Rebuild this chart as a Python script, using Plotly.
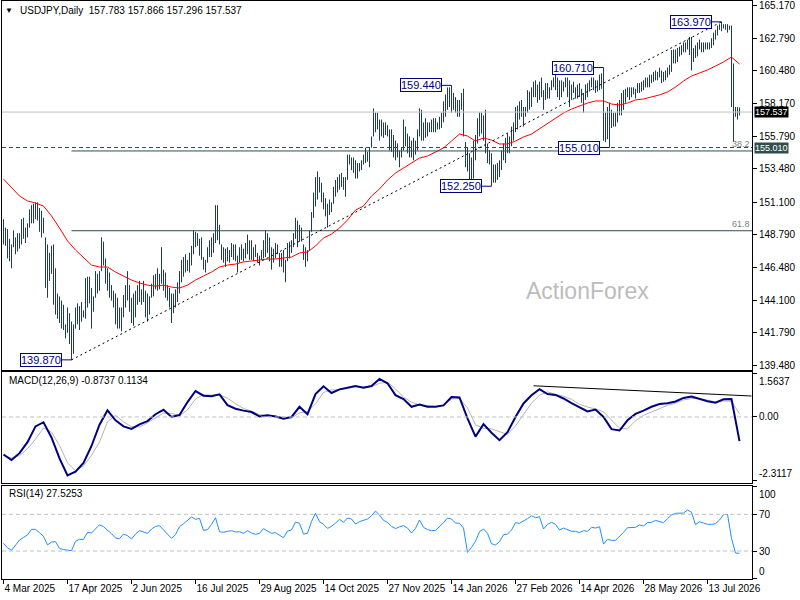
import plotly.graph_objects as go

# USDJPY daily bars, 4 Mar 2025 onwards
bar_high = [
    149.9, 149.3, 149.2, 148.5, 148.1, 149.1, 148.6, 148.9, 148.9, 149.9,
    150.0, 149.3, 149.6, 150.6, 150.9, 151.0, 151.1, 151.1, 150.7, 150.5,
    150.0, 148.6, 148.1, 147.5, 148.0, 148.1, 146.4, 144.6, 144.4, 144.1,
    143.8, 142.4, 143.6, 143.2, 142.6, 142.4, 143.6, 143.9, 143.7, 144.0,
    143.4, 145.7, 145.8, 145.8, 145.0, 144.4, 146.2, 146.0, 146.2, 148.6,
    148.3, 147.1, 146.4, 146.1, 145.2, 144.8, 144.6, 144.3, 143.6, 143.6,
    144.5, 145.2, 146.2, 145.2, 144.3, 144.6, 144.8, 145.2, 145.5, 144.9,
    145.5, 144.8, 144.6, 144.4, 145.3, 145.9, 146.0, 146.4, 146.0, 147.9,
    146.3, 146.1, 145.2, 145.0, 144.6, 144.6, 144.9, 145.4, 146.2, 147.0,
    147.2, 147.4, 147.0, 147.5, 148.0, 149.1, 149.0, 148.9, 148.5,
    148.6, 147.2, 147.0, 147.9, 148.4, 148.6, 148.9, 150.9, 150.9, 149.5,
    148.1, 147.9, 147.8, 147.9, 147.7, 148.2, 148.1, 148.1, 147.3, 147.9,
    148.1, 147.8, 148.2, 148.8, 148.4, 148.4, 147.9, 148.1, 147.5, 147.3,
    147.7, 148.4, 149.1, 148.9, 148.6, 147.9, 147.8, 148.2, 148.1, 147.5,
    147.5, 147.7, 147.0, 148.2, 148.3, 148.4, 148.9, 150.0, 149.8, 149.5,
    149.3, 148.1, 147.9, 147.7, 149.1, 150.4, 151.8, 152.9, 153.3, 152.9,
    152.5, 151.8, 151.4, 151.0, 151.3, 151.1, 152.2, 152.7, 152.9, 153.1,
    153.2, 152.9, 152.9, 154.5, 154.5, 154.3, 154.3, 154.1, 153.9, 153.9,
    154.1, 154.5, 155.0, 154.7, 155.0, 155.8, 157.8, 157.5, 157.5, 157.0,
    157.0, 156.8, 156.8, 156.6, 156.3,
    156.3, 155.9, 155.5, 155.3, 154.8, 155.0, 157.0, 156.5, 156.0, 155.8,
    155.5, 155.7, 155.5, 156.3, 157.8, 157.7, 156.8, 157.1, 156.8, 156.8,
    157.0, 157.1, 157.1, 156.8, 157.2, 157.5, 158.3, 158.8, 159.3, 159.3,
    159.44, 158.9, 158.6, 158.4, 158.4, 158.9, 159.2, 155.4, 155.0, 154.6,
    154.3, 155.5, 155.9, 157.1, 157.5, 157.5, 157.3, 157.7, 155.3, 154.8,
    154.6, 153.8, 153.8, 153.9, 154.1, 154.8, 155.3, 155.7, 156.0, 155.8,
    156.5, 156.8, 157.9, 158.0, 158.3, 158.4, 157.9, 157.9, 159.1, 159.0,
    159.3, 159.7, 159.8, 159.5, 159.7, 160.0, 159.1, 159.6, 159.6, 159.3,
    159.8, 160.0, 160.5, 160.0, 159.8, 159.8, 159.7, 160.0, 160.0, 159.8,
    159.5, 159.7, 159.3, 159.5, 159.6, 159.2, 158.9, 159.5, 159.6, 159.8,
    160.0, 160.0, 159.8, 159.8, 160.2, 160.3, 160.71, 157.5, 157.9, 158.2,
    157.7, 157.5, 157.5, 158.2, 158.4, 158.9, 159.1, 159.2, 159.3, 159.3,
    159.3, 159.3, 159.2, 159.6, 159.6, 159.7, 159.8, 160.0, 160.0, 160.2,
    160.2, 160.4, 160.5, 160.4, 160.7, 160.5, 160.4, 160.5, 160.7, 160.9,
    161.96, 162.0, 162.0, 162.1, 162.2, 162.3, 162.5, 162.5, 162.7, 162.9,
    162.9, 162.1, 162.3, 162.5, 162.7, 162.5, 162.5, 162.5, 162.5, 162.5,
    162.8, 163.2, 163.4, 163.7, 163.8, 163.97, 163.8, 163.8, 163.8, 163.7,
    163.7, 161.0, 157.9, 157.9, 157.866,
]
bar_low = [
    148.1, 148.0, 147.1, 146.9, 146.4, 147.9, 147.4, 147.6, 147.8, 148.1,
    148.5, 148.2, 148.6, 149.3, 149.6, 149.6, 149.9, 149.8, 149.0, 148.6,
    148.9, 145.0, 144.3, 145.5, 146.0, 143.8, 143.1, 142.8, 142.5, 142.1,
    142.0, 141.4, 141.8, 141.0, 139.87, 140.3, 142.1, 142.4, 142.0, 142.6,
    142.9, 142.8, 143.6, 143.9, 142.1, 143.3, 144.3, 144.6, 144.8, 146.2,
    146.6, 145.3, 144.8, 144.3, 144.1, 143.6, 142.4, 142.1, 142.1, 141.9,
    142.9, 143.6, 144.1, 143.3, 142.5, 142.3, 142.9, 143.8, 144.0, 143.8,
    144.0, 142.9, 142.6, 143.1, 144.3, 144.4, 144.9, 144.8, 144.9, 145.3,
    144.8, 144.3, 144.1, 143.6, 142.5, 143.2, 143.6, 144.0, 144.6, 145.4,
    145.8, 146.1, 146.2, 146.1, 146.6, 147.4, 147.9, 148.0, 147.3,
    147.0, 146.3, 146.1, 146.8, 147.2, 147.2, 147.5, 148.2, 148.4, 148.1,
    147.0, 146.8, 146.5, 146.9, 146.8, 147.2, 147.0, 146.9, 146.1, 146.8,
    147.0, 146.9, 147.1, 147.4, 147.0, 147.0, 146.9, 147.2, 146.8, 146.6,
    147.0, 147.1, 147.2, 147.5, 146.9, 146.3, 146.8, 147.1, 147.4, 146.5,
    146.5, 146.1, 145.4, 146.9, 147.1, 147.5, 147.9, 148.5, 147.9, 148.3,
    148.3, 147.0, 146.5, 146.9, 147.7, 149.0, 150.0, 150.8, 151.3, 151.8,
    151.1, 150.6, 150.1, 149.3, 150.2, 150.4, 151.0, 151.5, 151.8, 152.0,
    152.2, 152.0, 151.5, 152.7, 153.8, 153.4, 153.2, 152.8, 152.8, 153.3,
    153.4, 153.8, 153.9, 154.0, 153.6, 155.0, 155.8, 156.1, 156.3, 155.5,
    155.8, 155.7, 155.9, 155.8, 154.8,
    154.7, 154.3, 154.1, 154.3, 153.6, 154.3, 154.8, 155.1, 154.6, 154.3,
    154.3, 154.1, 154.5, 154.8, 155.8, 155.5, 155.5, 155.7, 155.8, 156.1,
    156.1, 156.1, 156.1, 156.3, 156.3, 156.4, 156.8, 157.2, 157.7, 157.9,
    157.5, 157.7, 157.5, 157.2, 157.2, 157.7, 155.8, 153.6, 153.3, 152.4,
    152.7, 152.8, 154.1, 155.3, 155.8, 156.0, 155.5, 154.6, 153.9, 153.8,
    152.25, 152.5, 152.5, 152.7, 152.9, 153.4, 154.1, 153.9, 154.6, 154.6,
    155.1, 155.5, 156.1, 156.3, 157.0, 157.2, 156.5, 157.2, 157.5, 157.7,
    157.9, 158.6, 158.6, 158.2, 158.4, 158.6, 157.7, 158.4, 158.5, 158.5,
    159.1, 159.3, 159.1, 158.6, 158.4, 158.6, 159.0, 159.3, 158.6, 157.9,
    158.4, 158.9, 158.5, 158.5, 158.6, 158.2, 157.5, 158.4, 158.6, 159.0,
    159.3, 159.1, 158.9, 159.0, 159.1, 159.2, 155.5, 155.4, 155.6, 155.01,
    156.4, 156.5, 156.5, 156.8, 157.3, 157.3, 157.7, 158.2, 158.6, 158.4,
    158.6, 158.8, 158.5, 158.9, 158.9, 159.0, 159.1, 159.3, 159.3, 159.3,
    159.6, 159.7, 159.8, 159.8, 160.0, 159.6, 159.7, 159.8, 160.0, 160.2,
    160.4, 161.0, 161.0, 161.1, 161.5, 161.6, 161.8, 161.8, 162.0, 161.6,
    160.5, 161.1, 161.4, 161.5, 162.0, 161.8, 161.8, 162.0, 162.0, 162.0,
    162.1, 162.3, 162.7, 163.0, 163.4, 163.3, 163.5, 163.4, 163.2, 163.4,
    157.9, 155.4, 157.2, 157.0, 157.296,
]
last_ohlc = [157.783, 157.866, 157.296, 157.537]

# red moving average, read every 4th bar
sma = [
    152.76, 152.12, 151.55, 151.20, 151.05, 150.84, 150.13, 149.27, 148.35, 147.70,
    147.13, 146.63, 146.49, 146.49, 146.13, 145.85, 145.56, 145.35, 145.20, 145.13,
    145.20, 145.06, 144.99, 145.20, 145.56, 145.85, 146.13, 146.49, 146.63, 146.70,
    146.85, 146.92, 147.00, 147.06, 147.06, 147.13, 147.20, 147.49, 147.56, 147.99,
    148.56, 148.84, 149.27, 149.84, 150.55, 150.84, 151.55, 152.05, 152.69, 153.19,
    153.55, 153.91, 154.26, 154.40, 154.69, 154.98, 155.47, 155.97, 155.83, 155.47,
    155.69, 155.54, 155.26, 155.26, 155.47, 155.76, 155.97, 156.33, 156.69, 157.11,
    157.47, 157.75, 157.97, 158.18, 158.33, 158.33, 158.11, 158.04, 158.18, 158.40,
    158.47, 158.61, 158.76, 158.97, 159.32, 159.75, 160.11, 160.32, 160.54, 160.82,
    161.11, 161.46, 160.96,
]

# MACD(12,26,9) main and signal, read every 4th bar
macd_main = [
    -1.36, -1.56, -1.31, -0.91, -0.34, -0.19, -0.74, -1.50, -2.12, -1.98,
    -1.66, -1.05, -0.28, 0.24, -0.12, -0.34, -0.43, -0.27, -0.15, 0.10,
    0.26, 0.00, 0.07, 0.54, 0.94, 0.77, 0.75, 0.82, 0.43, 0.30,
    0.23, 0.18, 0.02, 0.06, 0.02, -0.06, 0.00, 0.37, 0.10, 0.83,
    1.11, 0.87, 1.00, 1.06, 1.12, 1.06, 1.12, 1.38, 1.22, 0.79,
    0.65, 0.37, 0.45, 0.37, 0.37, 0.42, 0.72, 0.71, -0.05, -0.71,
    -0.26, -0.57, -0.84, -0.55, 0.00, 0.49, 0.79, 1.01, 0.83, 0.80,
    0.67, 0.50, 0.34, 0.20, 0.27, 0.00, -0.44, -0.49, -0.12, 0.11,
    0.23, 0.37, 0.47, 0.50, 0.56, 0.69, 0.74, 0.65, 0.57, 0.52,
    0.64, 0.65, -0.8737,
]
macd_signal = [
    -1.40, -1.48, -1.40, -1.15, -0.80, -0.40, -0.55, -1.03, -1.66, -1.95,
    -1.77, -1.39, -0.91, -0.17, 0.06, -0.18, -0.35, -0.36, -0.21, -0.05,
    0.14, 0.13, 0.04, 0.26, 0.65, 0.81, 0.79, 0.80, 0.68, 0.48,
    0.31, 0.21, 0.09, 0.06, 0.03, -0.02, -0.03, 0.15, 0.19, 0.48,
    0.89, 0.98, 0.98, 1.03, 1.10, 1.08, 1.10, 1.22, 1.26, 1.02,
    0.72, 0.54, 0.43, 0.41, 0.38, 0.43, 0.65, 0.67, 0.33, -0.28,
    -0.41, -0.43, -0.54, -0.63, -0.32, 0.11, 0.50, 0.79, 0.91, 0.82,
    0.75, 0.64, 0.46, 0.36, 0.29, 0.19, -0.11, -0.41, -0.43, -0.14,
    0.06, 0.18, 0.31, 0.42, 0.50, 0.62, 0.67, 0.66, 0.61, 0.55,
    0.58, 0.57, 0.1134,
]
macd_scale = [-2.3117, 1.5637]

# RSI(14), read every 2nd bar
rsi = [
    38.4, 33.6, 30.7, 36.2, 42.0, 44.9, 47.5, 53.6, 53.6, 50.0,
    46.0, 36.6, 39.8, 40.2, 32.9, 31.5, 31.1, 30.4, 40.6, 42.7,
    42.7, 50.4, 49.6, 54.0, 58.7, 56.5, 52.9, 48.9, 44.2, 43.5,
    48.5, 46.7, 43.1, 48.5, 52.2, 50.4, 49.3, 54.0, 56.9, 57.6,
    52.9, 49.3, 43.8, 47.8, 56.5, 59.8, 63.4, 67.1, 64.5, 65.6,
    52.5, 53.3, 59.1, 66.3, 51.1, 50.4, 51.5, 52.2, 50.7, 51.1,
    49.3, 52.2, 49.6, 48.2, 49.3, 54.4, 51.8, 49.3, 50.0, 47.5,
    44.5, 51.8, 52.9, 61.6, 60.2, 48.5, 49.3, 62.3, 71.1, 62.0,
    59.1, 54.7, 56.9, 60.5, 64.5, 61.3, 66.0, 64.9, 59.4, 62.0,
    63.8, 64.9, 68.5, 73.6, 69.3, 63.4, 61.3, 56.9, 54.4, 56.5,
    57.6, 55.1, 49.6, 54.7, 63.8, 55.8, 53.3, 52.2, 52.5, 56.5,
    60.9, 66.0, 64.9, 60.5, 60.2, 55.1, 28.5, 34.0, 40.6, 51.1,
    54.0, 49.3, 38.0, 36.6, 40.2, 47.8, 48.5, 52.9, 60.9, 60.2,
    62.3, 65.3, 68.5, 66.3, 67.4, 54.0, 59.1, 61.3, 59.1, 52.9,
    55.1, 53.6, 51.5, 51.5, 50.0, 52.2, 51.5, 55.8, 55.1, 56.5,
    37.6, 42.7, 41.6, 41.6, 45.6, 50.4, 55.4, 55.4, 55.8, 58.4,
    57.3, 60.9, 61.3, 63.4, 62.0, 60.9, 65.3, 69.3, 71.1, 71.1,
    71.4, 74.7, 72.2, 58.7, 62.0, 60.5, 59.1, 59.1, 59.8, 63.8,
    69.6, 70.0, 43.8, 27.8, 27.5253,
]
rsi_levels = [70, 30]

price_ticks = [165.170, 162.790, 160.480, 158.170, 155.790, 153.480,
               151.100, 148.790, 146.480, 144.100, 141.790, 139.480]
date_labels = ["4 Mar 2025", "17 Apr 2025", "2 Jun 2025", "16 Jul 2025",
               "29 Aug 2025", "14 Oct 2025", "27 Nov 2025", "14 Jan 2026",
               "27 Feb 2026", "14 Apr 2026", "28 May 2026", "13 Jul 2026"]

# marked swings (bar index, price)
swing_bars = [34, 224, 244, 300, 303, 359]
swing_prices = [139.870, 159.440, 152.250, 160.710, 155.010, 163.970]
support_line = 155.010
fib_levels = [38.2, 61.8]
macd_trend_bars = [265, 374]
macd_trend_vals = [1.13, 0.76]

BAR = "#1e3c5a"
NAVY = "#000080"
SLATE = "#2f4f4f"
FONT = "Liberation Sans, Arial, sans-serif"

n = len(bar_high)
xr = [-0.75, 374.25]

fig = go.Figure()

bx, by = [], []
for i, (h, l) in enumerate(zip(bar_high, bar_low)):
    bx += [i, i, None]
    by += [l, h, None]
fig.add_trace(go.Scatter(x=bx, y=by, mode="lines", line=dict(color=BAR, width=1),
                         xaxis="x", yaxis="y", hoverinfo="skip"))
fig.add_trace(go.Scatter(x=list(range(0, n, 4)), y=sma, mode="lines",
                         line=dict(color="#ff0000", width=1), xaxis="x", yaxis="y"))

fig.add_trace(go.Scatter(x=list(range(0, n, 4)), y=macd_signal, mode="lines",
                         line=dict(color="#b4b4b4", width=1), xaxis="x2", yaxis="y2"))
fig.add_trace(go.Scatter(x=list(range(0, n, 4)), y=macd_main, mode="lines",
                         line=dict(color=NAVY, width=2), xaxis="x2", yaxis="y2"))

fig.add_trace(go.Scatter(x=list(range(0, n, 2)), y=rsi, mode="lines",
                         line=dict(color="#1e90ff", width=1), xaxis="x3", yaxis="y3"))

# horizontal lines on the price panel
fig.add_shape(type="line", xref="x domain", yref="y", x0=0, x1=1,
              y0=last_ohlc[3], y1=last_ohlc[3], line=dict(color="#c0c0c0", width=1))
fig.add_shape(type="line", xref="x domain", yref="y", x0=0, x1=1,
              y0=support_line, y1=support_line,
              line=dict(color=SLATE, width=1, dash="4px,3px"))

# fibonacci retracement of the 139.870 -> 163.970 leg
lo, hi = swing_prices[0], swing_prices[-1]
for lvl in fib_levels:
    p = hi - (hi - lo) * lvl / 100
    fig.add_shape(type="line", xref="x", yref="y", x0=swing_bars[0], x1=xr[1],
                  y0=p, y1=p, line=dict(color=SLATE, width=1))
    fig.add_annotation(x=xr[1], y=p, xref="x", yref="y", text=f"{lvl:.1f}",
                       showarrow=False, xanchor="right", yanchor="bottom",
                       font=dict(size=9, color="#808080"))

# trend line from the low to the high
fig.add_shape(type="line", xref="x", yref="y", x0=swing_bars[0], y0=lo,
              x1=swing_bars[-1], y1=hi, line=dict(color="black", width=1, dash="2px,3px"))

for b, p in zip(swing_bars, swing_prices):
    fig.add_shape(type="line", xref="x", yref="y", x0=b - 5, x1=b, y0=p, y1=p,
                  line=dict(color=NAVY, width=1))
    fig.add_annotation(x=b - 5, y=p, xref="x", yref="y", text=f"{p:.3f}",
                       showarrow=False, xanchor="right", yanchor="middle",
                       font=dict(size=11, color=NAVY), bgcolor="white",
                       bordercolor=NAVY, borderwidth=1, borderpad=0)

# price tags on the axis
for p, bg in [(last_ohlc[3], "black"), (support_line, SLATE)]:
    fig.add_annotation(x=1, y=p, xref="paper", yref="y", text=f"{p:.3f}",
                       showarrow=False, xanchor="left", yanchor="middle", xshift=2,
                       font=dict(size=9, color="white"), bgcolor=bg, borderpad=0)

# MACD panel lines
fig.add_shape(type="line", xref="x2 domain", yref="y2", x0=0, x1=1, y0=0, y1=0,
              line=dict(color="#c0c0c0", width=1, dash="4px,3px"))
fig.add_shape(type="line", xref="x2", yref="y2", x0=macd_trend_bars[0], x1=macd_trend_bars[1],
              y0=macd_trend_vals[0], y1=macd_trend_vals[1], line=dict(color="black", width=1))
for lv in rsi_levels:
    fig.add_shape(type="line", xref="x3 domain", yref="y3", x0=0, x1=1, y0=lv, y1=lv,
                  line=dict(color="#c0c0c0", width=1, dash="4px,3px"))

# inset min / max labels on the indicator axes
for text, yv, yref, anchor in [(f"{macd_scale[1]:.4f}", macd_scale[1], "y2", "top"),
                               (f"{macd_scale[0]:.4f}", macd_scale[0], "y2", "bottom"),
                               ("100", 100, "y3", "top"), ("0", 0, "y3", "bottom")]:
    fig.add_annotation(x=1, y=yv, xref="paper", yref=yref, text=text, showarrow=False,
                       xanchor="left", yanchor=anchor, xshift=5, font=dict(size=10))

# panel captions
fig.add_annotation(x=0.0093, y=0.9827, xref="paper", yref="paper", text="▼",
                   showarrow=False, xanchor="center", yanchor="middle", font=dict(size=8))
fig.add_annotation(x=0.0213, y=0.9827, xref="paper", yref="paper",
                   text="USDJPY,Daily  " + " ".join(f"{v:.3f}" for v in last_ohlc),
                   showarrow=False, xanchor="left", yanchor="middle", font=dict(size=10))
fig.add_annotation(x=0.0067, y=0.3426, xref="paper", yref="paper",
                   text=f"MACD(12,26,9) {macd_main[-1]:.4f} {macd_signal[-1]:.4f}",
                   showarrow=False, xanchor="left", yanchor="middle", font=dict(size=10))
fig.add_annotation(x=0.0067, y=0.1471, xref="paper", yref="paper",
                   text=f"RSI(14) {rsi[-1]:.4f}",
                   showarrow=False, xanchor="left", yanchor="middle", font=dict(size=10))
fig.add_annotation(x=0.78, y=0.498, xref="paper", yref="paper", text="ActionForex",
                   showarrow=False, xanchor="center", yanchor="middle",
                   font=dict(size=23, color="#bcbcbc"))

frame = dict(showline=True, mirror=True, linecolor="black", linewidth=1,
             showgrid=False, zeroline=False, automargin=False)
xbase = dict(frame, range=xr, showticklabels=False, ticks="")

fig.update_layout(
    width=800, height=600,
    margin=dict(l=2, r=48, t=1, b=21, autoexpand=False),
    paper_bgcolor="white", plot_bgcolor="white",
    showlegend=False, hovermode=False,
    font=dict(family=FONT, size=10, color="black"),
    xaxis=dict(xbase, domain=[0, 1], anchor="y"),
    xaxis2=dict(xbase, domain=[0, 1], anchor="y2", matches="x"),
    xaxis3=dict(frame, domain=[0, 1], anchor="y3", matches="x", range=xr,
                tickvals=list(range(0, n, 32)), ticktext=date_labels, tickangle=0,
                ticks="outside", ticklen=4, tickcolor="black",
                ticklabelposition="outside right", tickfont=dict(size=10)),
    yaxis=dict(frame, domain=[0.3624, 1], range=[139.181, 165.455], side="right",
               tickvals=price_ticks, ticktext=[f"{v:.3f}" for v in price_ticks],
               ticks="outside", ticklen=4, tickcolor="black", ticklabeloverflow="allow"),
    yaxis2=dict(frame, domain=[0.1656, 0.3573], range=[-2.401, 1.612], side="right",
                tickvals=[macd_scale[1], 0, macd_scale[0]], ticktext=["", "0.00", ""],
                ticks="outside", ticklen=4, tickcolor="black"),
    yaxis3=dict(frame, domain=[0, 0.1614], range=[-0.5, 101.2], side="right",
                tickvals=[100, 70, 30, 0], ticktext=["", "70", "30", ""],
                ticks="outside", ticklen=4, tickcolor="black"),
)

fig.write_html("out.html", config={"displayModeBar": False},
               post_script="document.body.style.margin='0';")
